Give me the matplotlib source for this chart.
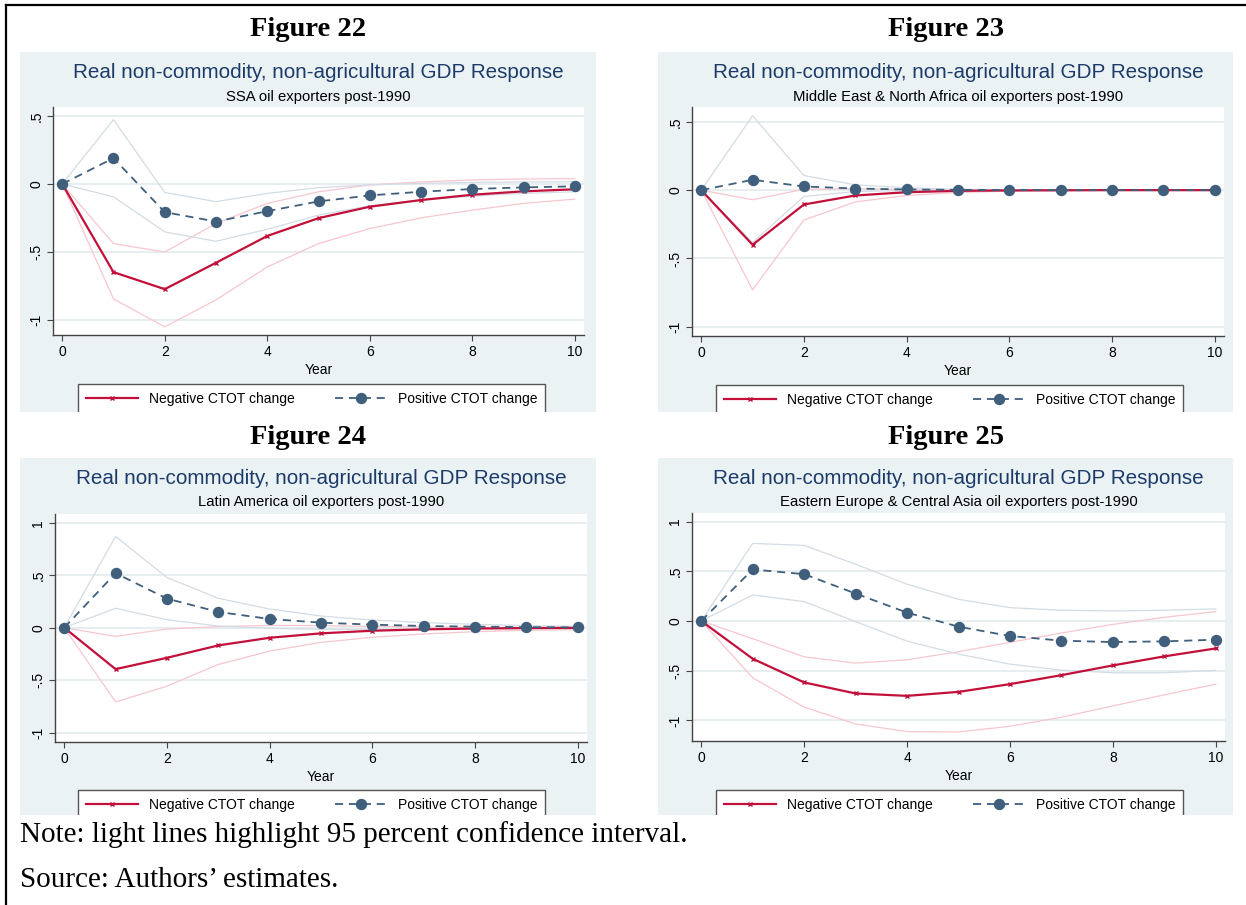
import matplotlib
matplotlib.use("Agg")
import matplotlib.pyplot as plt
from matplotlib.lines import Line2D

# ---------------- data ----------------
years = list(range(11))

ssa_neg = [0, -0.648, -0.773, -0.579, -0.382, -0.251, -0.167, -0.118, -0.079, -0.054, -0.039]
ssa_pos = [0, 0.190, -0.207, -0.276, -0.200, -0.128, -0.084, -0.057, -0.037, -0.025, -0.017]
ssa_neg_hi = [0, -0.438, -0.500, -0.290, -0.143, -0.057, -0.007, 0.015, 0.030, 0.037, 0.039]
ssa_neg_lo = [0, -0.845, -1.050, -0.852, -0.610, -0.438, -0.328, -0.249, -0.192, -0.143, -0.111]
ssa_pos_hi = [0, 0.473, -0.062, -0.130, -0.069, -0.027, -0.007, 0.005, 0.012, 0.015, 0.017]
ssa_pos_lo = [0, -0.094, -0.352, -0.421, -0.333, -0.229, -0.160, -0.118, -0.089, -0.069, -0.057]

mena_neg = [0, -0.400, -0.105, -0.039, -0.015, -0.005, -0.002, -0.001, 0, 0, 0]
mena_pos = [0, 0.076, 0.027, 0.012, 0.005, 0.002, 0.001, 0, 0, 0, 0]
mena_neg_hi = [0, -0.070, 0.007, 0.010, 0.005, 0.002, 0.001, 0, 0, 0, 0]
mena_neg_lo = [0, -0.730, -0.218, -0.086, -0.039, -0.017, -0.007, -0.003, -0.001, 0, 0]
mena_pos_hi = [0, 0.545, 0.107, 0.039, 0.017, 0.007, 0.003, 0.001, 0, 0, 0]
mena_pos_lo = [0, -0.384, -0.046, -0.010, -0.003, -0.001, 0, 0, 0, 0, 0]

lat_neg = [0, -0.395, -0.287, -0.169, -0.096, -0.054, -0.029, -0.016, -0.008, -0.004, -0.002]
lat_pos = [0, 0.519, 0.277, 0.150, 0.083, 0.048, 0.029, 0.016, 0.010, 0.005, 0.003]
lat_neg_hi = [0, -0.083, -0.013, 0.010, 0.022, 0.020, 0.012, 0.007, 0.004, 0.002, 0.001]
lat_neg_lo = [0, -0.707, -0.557, -0.350, -0.223, -0.140, -0.092, -0.060, -0.038, -0.025, -0.019]
lat_pos_hi = [0, 0.869, 0.478, 0.280, 0.178, 0.111, 0.073, 0.048, 0.032, 0.020, 0.013]
lat_pos_lo = [0, 0.185, 0.076, 0.016, -0.006, -0.016, -0.016, -0.012, -0.010, -0.007, -0.007]

eeca_neg = [0, -0.380, -0.618, -0.729, -0.753, -0.713, -0.635, -0.545, -0.447, -0.356, -0.276]
eeca_pos = [0, 0.518, 0.471, 0.276, 0.084, -0.057, -0.151, -0.198, -0.212, -0.205, -0.188]
eeca_neg_hi = [0, -0.178, -0.360, -0.424, -0.390, -0.309, -0.215, -0.121, -0.034, 0.037, 0.094]
eeca_neg_lo = [0, -0.571, -0.867, -1.035, -1.113, -1.116, -1.059, -0.968, -0.854, -0.743, -0.635]
eeca_pos_hi = [0, 0.780, 0.760, 0.571, 0.370, 0.218, 0.134, 0.108, 0.101, 0.108, 0.121]
eeca_pos_lo = [0, 0.262, 0.195, -0.007, -0.202, -0.333, -0.434, -0.494, -0.521, -0.521, -0.497]

figure_labels = ["Figure 22", "Figure 23", "Figure 24", "Figure 25"]
main_title = "Real non-commodity, non-agricultural GDP Response"
subtitles = ["SSA oil exporters post-1990",
             "Middle East & North Africa oil exporters post-1990",
             "Latin America oil exporters post-1990",
             "Eastern Europe & Central Asia oil exporters post-1990"]
series_labels = ["Negative CTOT change", "Positive CTOT change"]
x_ticks = [0, 2, 4, 6, 8, 10]
y_ticks_small = [-1, -0.5, 0, 0.5]
y_ticks_large = [-1, -0.5, 0, 0.5, 1]
y_tick_text = {-1: "-1", -0.5: "-.5", 0: "0", 0.5: ".5", 1: "1"}
note_text = "Note: light lines highlight 95 percent confidence interval."
source_text = "Source: Authors\u2019 estimates."

# ---------------- layout / style ----------------
W, H = 1246, 905
SANS = ["Liberation Sans", "DejaVu Sans"]
SERIF = ["Liberation Serif", "DejaVu Serif"]
plt.rcParams["font.family"] = SANS

RED = "#C2103A"
BLUE = "#3F5F7C"
RED_CI = "#F7C6CF"
BLUE_CI = "#D3DCE4"
PANEL_BG = "#EAF2F3"
TITLE_C = "#1D3B6A"
AXIS_C = "#444444"

def fr(x0, y0, x1, y1):
    return [x0 / W, 1 - y1 / H, (x1 - x0) / W, (y1 - y0) / H]

panels = [
    dict(bg=(20, 52, 596, 412), ax=(53, 107, 584, 335), ylim=(-1.11, 0.566), yt=y_ticks_small,
         leg=(78, 384), data=(ssa_neg, ssa_pos, ssa_neg_hi, ssa_neg_lo, ssa_pos_hi, ssa_pos_lo)),
    dict(bg=(658, 52, 1233, 412), ax=(692, 107, 1224, 336), ylim=(-1.068, 0.609), yt=y_ticks_small,
         leg=(716, 385), data=(mena_neg, mena_pos, mena_neg_hi, mena_neg_lo, mena_pos_hi, mena_pos_lo)),
    dict(bg=(20, 458, 596, 815), ax=(55, 514, 587, 742), ylim=(-1.089, 1.083), yt=y_ticks_large,
         leg=(78, 790), data=(lat_neg, lat_pos, lat_neg_hi, lat_neg_lo, lat_pos_hi, lat_pos_lo)),
    dict(bg=(658, 458, 1233, 815), ax=(692, 513, 1225, 741), ylim=(-1.207, 1.086), yt=y_ticks_large,
         leg=(716, 790), data=(eeca_neg, eeca_pos, eeca_neg_hi, eeca_neg_lo, eeca_pos_hi, eeca_pos_lo)),
]
fig_label_y = [30, 30, 437, 437]
title_y = [72, 72, 478, 478]
sub_y = [97, 97, 502, 502]

fig = plt.figure(figsize=(W / 100, H / 100), dpi=100)
fig.patch.set_facecolor("white")

# outer frame (top and left)
fig.add_artist(Line2D([6 / W, 6 / W], [0, 1 - 5 / H], transform=fig.transFigure, color="black", lw=1.6))
fig.add_artist(Line2D([6 / W, 1], [1 - 5 / H, 1 - 5 / H], transform=fig.transFigure, color="black", lw=1.6))

for i, p in enumerate(panels):
    bx0, by0, bx1, by1 = p["bg"]
    bg = fig.add_axes(fr(*p["bg"]))
    bg.set_facecolor(PANEL_BG)
    bg.set_xlim(0, bx1 - bx0)
    bg.set_ylim(by1 - by0, 0)
    bg.set_xticks([]); bg.set_yticks([])
    for s in bg.spines.values():
        s.set_visible(False)

    ax = fig.add_axes(fr(*p["ax"]))
    ax.set_facecolor("white")
    neg, pos, neg_hi, neg_lo, pos_hi, pos_lo = p["data"]
    for yv in p["yt"]:
        ax.axhline(yv, color="#E4EDEF", lw=1.3, zorder=0)
    ax.plot(years, neg_hi, color=RED_CI, lw=0.9, zorder=1)
    ax.plot(years, neg_lo, color=RED_CI, lw=0.9, zorder=1)
    ax.plot(years, pos_hi, color=BLUE_CI, lw=0.9, zorder=1)
    ax.plot(years, pos_lo, color=BLUE_CI, lw=0.9, zorder=1)
    h_neg, = ax.plot(years, neg, color=RED, lw=1.6, marker="x", ms=3, mew=1.0, zorder=3,
                     label=series_labels[0])
    h_pos, = ax.plot(years, pos, color=BLUE, lw=1.3, ls=(0, (4.5, 3.2)), marker="o", ms=7.2,
                     mec=BLUE, mfc=BLUE, zorder=4, label=series_labels[1])
    ax.set_xlim(-0.18, 10.18)
    ax.set_ylim(*p["ylim"])
    ax.set_xticks(x_ticks)
    ax.set_xticklabels([str(t) for t in x_ticks])
    ax.set_yticks(p["yt"])
    ax.set_yticklabels([y_tick_text[t] for t in p["yt"]], rotation=90, va="center")
    for s in ("top", "right"):
        ax.spines[s].set_visible(False)
    for s in ("left", "bottom"):
        ax.spines[s].set_color(AXIS_C)
        ax.spines[s].set_linewidth(1.0)
    ax.tick_params(direction="out", length=4, width=0.8, color=AXIS_C, labelsize=10, labelcolor="black")
    ax.tick_params(axis="y", pad=3)
    ax.tick_params(axis="x", pad=3)
    ax.set_xlabel("Year", fontsize=10, labelpad=3)

    ax_cx = (p["ax"][0] + p["ax"][2]) / 2
    bg.text(ax_cx - bx0, title_y[i] - by0, main_title, ha="center", va="center",
            fontsize=14.9, color=TITLE_C)
    bg.text(ax_cx - bx0, sub_y[i] - by0, subtitles[i], ha="center", va="center",
            fontsize=10.7, color="black")

    lx, ly = p["leg"]
    leg = bg.legend(handles=[h_neg, h_pos], labels=series_labels, loc="upper left",
                    bbox_to_anchor=(lx - bx0, ly - by0), bbox_transform=bg.transData,
                    borderaxespad=0, ncol=2, fontsize=10, handlelength=3.8, handletextpad=0.75,
                    columnspacing=2.9, borderpad=0.55, fancybox=False, framealpha=1,
                    edgecolor="#555555", numpoints=1)
    fr_patch = leg.get_frame()
    fr_patch.set_linewidth(1.0)
    fr_patch.set_clip_on(True)
    fr_patch.set_clip_box(bg.bbox)

    fig.text(((bx0 + bx1) / 2) / W, 1 - fig_label_y[i] / H, figure_labels[i], ha="center", va="center",
             family=SERIF, fontweight="bold", fontsize=20.5)

fig.text(20 / W, 1 - 835 / H, note_text, ha="left", va="center", family=SERIF, fontsize=21)
fig.text(20 / W, 1 - 880 / H, source_text, ha="left", va="center", family=SERIF, fontsize=21)

fig.savefig("out.png", dpi=100, facecolor="white")
